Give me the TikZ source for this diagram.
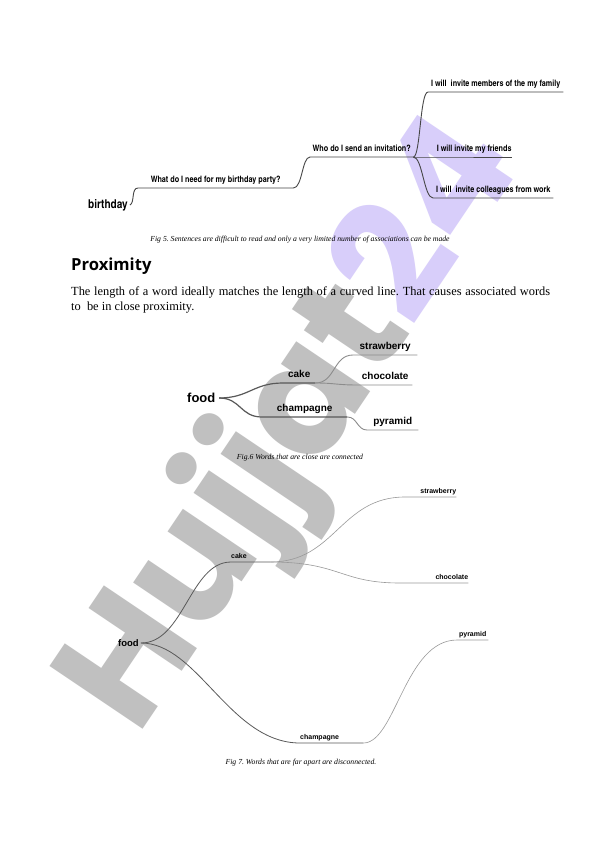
\documentclass[tikz,border=0pt]{standalone}
\usepackage{fontspec}
\setmainfont{Liberation Serif}
\newfontfamily\headfont{Open Sans}
\newfontfamily\mapfont{Liberation Sans}
\newfontfamily\condfont{texgyreheroscn-bold}[Extension=.otf]
\newfontfamily\wmfont{Poppins}
\definecolor{wmgrey}{RGB}{192,192,192}
\definecolor{wmlilac}{RGB}{216,206,250}
\definecolor{linedark}{RGB}{70,70,70}
\frenchspacing

\begin{document}
\begin{tikzpicture}[x=1pt, y=-1pt,
	fivelbl/.style={font=\condfont\fontsize{8.8}{10}\selectfont, anchor=south west, inner xsep=0pt, inner ysep=5pt, text depth=0pt, minimum width=#1},
	sixlbl/.style={font=\mapfont\bfseries\fontsize{10}{11}\selectfont, anchor=south west, inner xsep=0pt, inner ysep=5pt, text depth=0pt},
	sevenlbl/.style={font=\mapfont\bfseries\fontsize{7}{8}\selectfont, anchor=south west, inner xsep=0pt, inner ysep=3pt, text depth=0pt},
	under/.style={text width=#1, align=center},
	fivelink/.style={draw=linedark, line width=0.9pt},
	sixmain/.style={draw=black!65, line width=1.2pt},
	sixbranch/.style={draw=black!45, line width=0.9pt},
	sevenmain/.style={draw=black!65, line width=0.8pt},
	sevenbranch/.style={draw=black!40, line width=0.6pt},
	caption/.style={font=\itshape\fontsize{7.7}{8}\selectfont, inner sep=0pt}]
	\useasboundingbox[fill=white] (0,0) rectangle (596,842);
	\node[rotate=56, anchor=base west, inner sep=0pt, font=\wmfont\bfseries\fontsize{160}{160}\selectfont] (mark) at (137,738) {\textcolor{wmgrey}{Hujjat}\textcolor{wmlilac}{24}};

	\node[anchor=west, inner xsep=2pt, inner ysep=0pt, font=\condfont\fontsize{12.2}{13}\selectfont] (bday) at (86,205) {birthday};
	\node[fivelbl=155pt] (need) at (138,188) {What do I need for my birthday party?};
	\node[fivelbl=103pt] (whom) at (310,157) {Who do I send an invitation?};
	\node[fivelbl=135pt] (family) at (428,92) {I will\ \ invite members of the my family};
	\node[fivelbl=76pt] (friends) at (436,157) {I will invite my friends};
	\node[fivelbl=120pt] (work) at (433,198) {I will\ \ invite colleagues from work};
	\draw[fivelink] (bday.east) .. controls +(5,-2) and +(-7,0) .. (need.south west) -- (need.south east) .. controls +(9,0) and +(-8,0) .. (whom.south west) -- (whom.south east);
	\draw[fivelink] (whom.south east) .. controls +(7,0) and +(-8,0) .. (family.south west) -- (family.south east);
	\draw[fivelink] (whom.south east) -- (friends.south west) -- (friends.south east);
	\draw[fivelink] (whom.south east) .. controls +(9,0) and +(-9,0) .. (work.south west) -- (work.south east);
	\node[caption] (capfive) at (300,240) {Fig 5. Sentences are difficult to read and only a very limited number of associations can be made};

	\node[anchor=base west, inner sep=0pt, font=\headfont\bfseries\fontsize{16.6}{19}\selectfont] (head) at (71,270) {Proximity};
	\node[anchor=base west, inner sep=0pt, font=\fontsize{12.4}{14}\selectfont] (lineone) at (71,295) {\hbox to 479pt{The length of a word ideally matches the length of a curved line. That causes associated words}};
	\node[anchor=base west, inner sep=0pt, font=\fontsize{12.4}{14}\selectfont] (linetwo) at (71,310) {to\ \ be in close proximity.};

	\node[anchor=west, inner xsep=3.5pt, inner ysep=0pt, font=\mapfont\bfseries\fontsize{13}{14}\selectfont] (foodA) at (183.5,398) {food};
	\node[sixlbl, under=32pt] (cakeA) at (283,383) {cake};
	\node[sixlbl, under=64pt] (strawA) at (353,355) {strawberry};
	\node[sixlbl, under=54pt] (chocA) at (358,385) {chocolate};
	\node[sixlbl, under=85pt] (champA) at (262,417) {champagne};
	\node[sixlbl, under=51pt] (pyrA) at (367,430) {pyramid};
	\draw[sixmain] (foodA.east) .. controls +(30,0) and +(-30,0) .. (cakeA.south west) -- (cakeA.south east);
	\draw[sixmain] (foodA.east) .. controls +(22,0) and +(-22,0) .. (champA.south west) -- (champA.south east);
	\draw[sixbranch] (cakeA.south east) .. controls +(20,0) and +(-20,0) .. (strawA.south west) -- (strawA.south east);
	\draw[sixbranch] (cakeA.south east) .. controls +(20,0) and +(-22,0) .. (chocA.south west) -- (chocA.south east);
	\draw[sixbranch] (champA.south east) .. controls +(10,0) and +(-10,0) .. (pyrA.south west) -- (pyrA.south east);
	\node[caption] (capsix) at (300,458) {Fig.6 Words that are close are connected};

	\node[anchor=west, inner xsep=2pt, inner ysep=0pt, font=\mapfont\bfseries\fontsize{9.5}{10}\selectfont] (foodB) at (116,643) {food};
	\node[sevenlbl, under=39pt, align=left] (cakeB) at (231,562) {cake};
	\node[sevenlbl, under=51pt, align=right] (strawB) at (405,497) {strawberry};
	\node[sevenlbl, under=68pt, align=right] (chocB) at (400,583) {chocolate};
	\node[sevenlbl, under=63pt, align=left] (champB) at (300,743) {champagne};
	\node[sevenlbl, under=31pt] (pyrB) at (457,640) {pyramid};
	\draw[sevenmain] (foodB.east) .. controls +(43,0) and +(-41,0) .. (cakeB.south west) -- (cakeB.south east);
	\draw[sevenbranch] (cakeB.south east) .. controls +(65,0) and +(-65,0) .. (strawB.south west) -- (strawB.south east);
	\draw[sevenbranch] (cakeB.south east) .. controls +(70,0) and +(-60,0) .. (chocB.south west) -- (chocB.south east);
	\draw[sevenmain] (foodB.east) .. controls +(57,0) and +(-70,0) .. (champB.south west) -- (champB.south east);
	\draw[sevenbranch] (champB.south east) .. controls +(32,0) and +(-52,0) .. (pyrB.south west) -- (pyrB.south east);
	\node[caption] (capseven) at (301,763) {Fig 7. Words that are far apart are disconnected.};
\end{tikzpicture}
\end{document}
